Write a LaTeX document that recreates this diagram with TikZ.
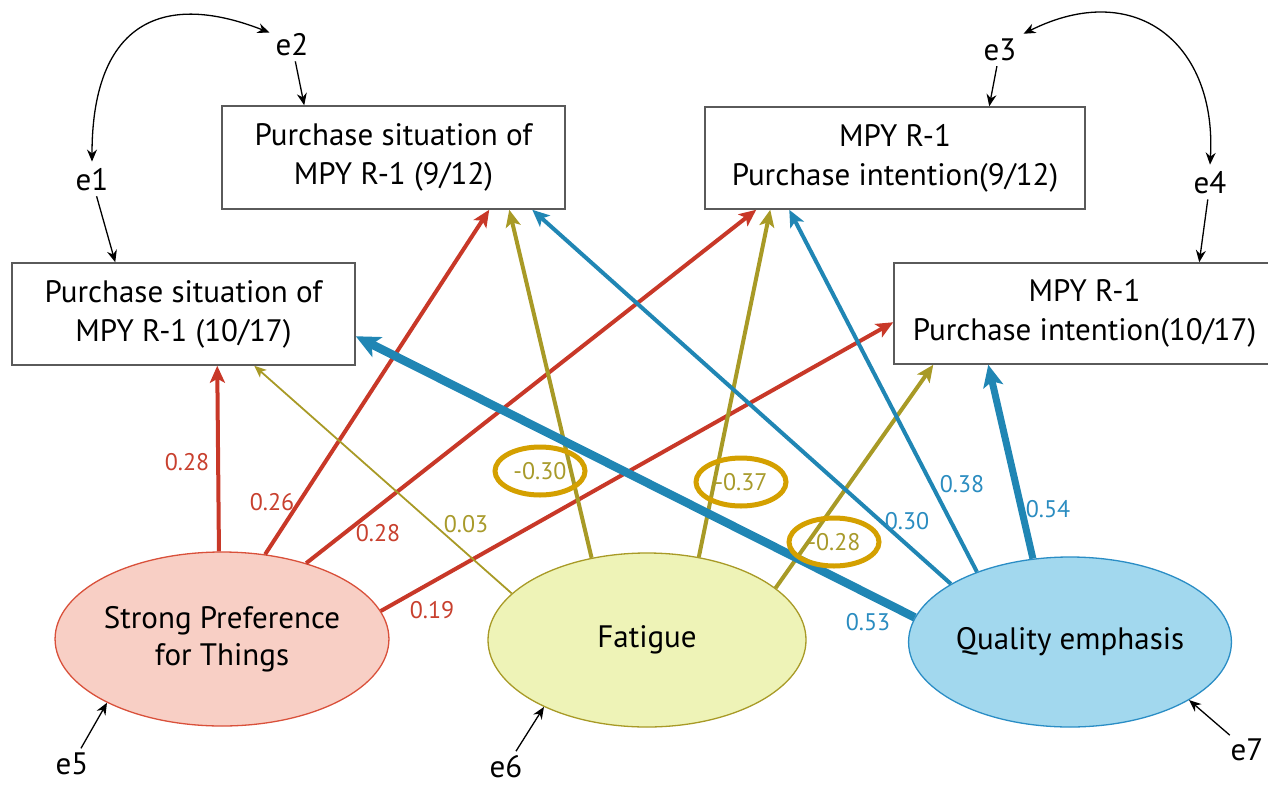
\documentclass[tikz,border=0pt]{standalone}
\usepackage{fontspec}
\setmainfont{PT Sans}
\usetikzlibrary{shapes.geometric,arrows.meta,calc}
\definecolor{redl}{HTML}{C83828}
\definecolor{redt}{HTML}{C8402E}
\definecolor{olvl}{HTML}{A89A26}
\definecolor{olvt}{HTML}{A89A2B}
\definecolor{blul}{HTML}{2086B4}
\definecolor{blut}{HTML}{2A8CC0}
\definecolor{hlc}{HTML}{D4A000}
\definecolor{boxgray}{HTML}{5A5A5A}
\definecolor{spfill}{HTML}{F8CFC5}
\definecolor{spdraw}{HTML}{D9503A}
\definecolor{fafill}{HTML}{EEF3B7}
\definecolor{fadraw}{HTML}{A89A26}
\definecolor{qefill}{HTML}{A2D8EE}
\definecolor{qedraw}{HTML}{2A8DC5}
\newcommand\boxfont{\fontsize{31}{39}\selectfont}
\newcommand\lvfont{\fontsize{31}{37}\selectfont}
\newcommand\labfont{\fontsize{24}{28}\selectfont}
\newcommand\efont{\fontsize{31}{34}\selectfont}
\tikzset{
  box/.style={draw=boxgray, line width=1.5pt, align=center, font=\boxfont, inner sep=0pt, fill=white},
  lv/.style={ellipse, line width=1.3pt, inner sep=0pt, align=center, font=\lvfont},
  err/.style={font=\efont, inner sep=1pt},
  earrow/.style={arrows={-Stealth[length=12pt,width=10pt]}, line width=1.3pt, shorten <=4pt},
  ecurve/.style={arrows={Stealth[length=12pt,width=10pt]-Stealth[length=12pt,width=10pt]}, line width=1.3pt},
  rl/.style={draw=redl, line width=4pt, arrows={-Stealth[length=17pt,width=15pt,inset=4pt]}},
  ol/.style={draw=olvl, line width=4pt, arrows={-Stealth[length=17pt,width=15pt,inset=4pt]}},
  olthin/.style={draw=olvl, line width=1.8pt, arrows={-Stealth[length=12pt,width=10pt,inset=3pt]}},
  bl/.style={draw=blul, line width=4pt, arrows={-Stealth[length=17pt,width=15pt,inset=4pt]}},
  blmid/.style={draw=blul, line width=7pt, arrows={-Stealth[length=22pt,width=20pt,inset=5pt]}},
  blthick/.style={draw=blul, line width=8.5pt, arrows={-Stealth[length=24pt,width=22pt,inset=6pt]}},
  lr/.style={font=\labfont, text=redt, inner sep=1pt},
  lo/.style={font=\labfont, text=olvt, inner sep=1pt},
  lb/.style={font=\labfont, text=blut, inner sep=1pt},
  hl/.style={ellipse, draw=hlc, line width=5pt, minimum width=90pt, minimum height=48pt, inner sep=0pt}
}
\begin{document}
\begin{tikzpicture}[x=1pt,y=-1pt]
\useasboundingbox (0,0) rectangle (1268,784);
\clip (0,0) rectangle (1268,784);

% observed variables
\node[box, minimum width=343pt, minimum height=103pt] (A) at (393.5,157.5) {Purchase situation of\\MPY R-1 (9/12)};
\node[box, minimum width=380pt, minimum height=102pt] (B) at (895,158) {MPY R-1\\Purchase intention(9/12)};
\node[box, minimum width=343pt, minimum height=102pt] (C) at (183.5,314) {Purchase situation of\\MPY R-1 (10/17)};
\node[box, minimum width=381pt, minimum height=101pt] (D) at (1084.5,313.5) {MPY R-1\\Purchase intention(10/17)};

% latent variables
\node[lv, fill=spfill, draw=spdraw, minimum width=326pt, minimum height=174pt] (SP) at (222,639) {Strong Preference\\for Things};
\node[lv, fill=fafill, draw=fadraw, minimum width=318pt, minimum height=174pt] (FA) at (647,640) {Fatigue};
\node[lv, fill=qefill, draw=qedraw, minimum width=314pt, minimum height=170pt] (QE) at (1070,642) {Quality emphasis};

% red paths
\draw[rl] (SP.92) -- ([xshift=206pt]C.south west);
\draw[rl] (SP.63.7) -- ([xshift=268pt]A.south west);
\draw[rl] (SP.42.2) -- ([xshift=52pt]B.south west);
\draw[rl] (SP.10.2) -- ([yshift=-60pt]D.north west);

% olive paths
\draw[olthin] (FA.161.4) -- ([xshift=243pt]C.south west);
\draw[ol] (FA.124.5) -- ([xshift=288pt]A.south west);
\draw[ol] (FA.58.4) -- ([xshift=66pt]B.south west);
\draw[ol] (FA.22.8) -- ([xshift=40pt]D.south west);

% blue paths
\draw[bl] (QE.154.2) -- ([xshift=311pt]A.south west);
\draw[bl] (QE.143.6) -- ([xshift=85pt]B.south west);
\draw[blmid] (QE.114.7) -- ([xshift=95pt]D.south west);
\draw[blthick] (QE.171.1) -- ([yshift=-74pt]C.north east);

% coefficients
\node[lr] (c1) at (187,462) {0.28};
\node[lr] (c2) at (272,502) {0.26};
\node[lr] (c3) at (378,533) {0.28};
\node[lr] (c4) at (432,610) {0.19};
\node[lo] (c5) at (466,524) {0.03};
\node[lo, hl] (c6) at (540,471) {-0.30};
\node[lo, hl] (c7) at (741,482) {-0.37};
\node[lo, hl] (c8) at (834,542) {-0.28};
\node[lb] (c9) at (868,622) {0.53};
\node[lb] (c10) at (907,521) {0.30};
\node[lb] (c11) at (962,484) {0.38};
\node[lb] (c12) at (1048,509) {0.54};

% error terms
\node[err] (e1) at (92,180) {e1};
\node[err] (e2) at (292,45) {e2};
\node[err] (e3) at (1000,50) {e3};
\node[err] (e4) at (1210,183) {e4};
\node[err] (e5) at (72,764) {e5};
\node[err] (e6) at (506,767) {e6};
\node[err] (e7) at (1247,750) {e7};

\draw[earrow] (e1) -- ([xshift=104pt]C.north west);
\draw[earrow] (e2) -- ([xshift=83pt]A.north west);
\draw[earrow] (e3) -- ([xshift=285pt]B.north west);
\draw[earrow] (e4) -- ([xshift=306pt]D.north west);
\draw[earrow] (e5) -- (SP.209.7);
\draw[earrow] (e6) -- (FA.213.2);
\draw[earrow] (e7) -- (QE.334.6);

\draw[ecurve] ([yshift=6pt]e1.north) .. controls (92,27) and (158,-11) .. ([xshift=-5pt]e2.north west);
\draw[ecurve] ([xshift=6pt,yshift=4pt]e3.north east) .. controls (1135,-22) and (1217,43) .. ([yshift=6pt]e4.north);
\end{tikzpicture}
\end{document}
